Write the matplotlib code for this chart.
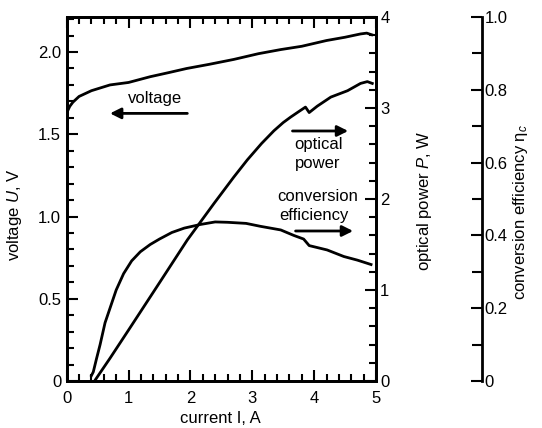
import numpy as np
import matplotlib
matplotlib.use("Agg")
import matplotlib.pyplot as plt
from matplotlib.ticker import MultipleLocator

plt.rcParams['font.family'] = ['Liberation Sans', 'DejaVu Sans']
plt.rcParams['mathtext.fontset'] = 'custom'
plt.rcParams['mathtext.rm'] = 'Liberation Sans'
plt.rcParams['mathtext.it'] = 'Liberation Sans:italic'

# data
voltage_I = [0, 0.05, 0.1, 0.2, 0.4, 0.7, 1.0, 1.35, 1.65, 1.94, 2.3, 2.7, 3.1,
             3.46, 3.8, 4.2, 4.5, 4.75, 4.85, 4.93]
voltage = [1.63, 1.67, 1.695, 1.73, 1.765, 1.80, 1.815, 1.85, 1.875, 1.90, 1.925,
           1.955, 1.99, 2.015, 2.035, 2.07, 2.09, 2.11, 2.115, 2.105]

power_I = [0.45, 0.7, 1.0, 1.5, 1.95, 2.38, 2.7, 2.92, 3.15, 3.35, 3.5, 3.62,
           3.75, 3.86, 3.92, 4.05, 4.27, 4.54, 4.75, 4.86, 4.94]
power = [0.0, 0.25, 0.56, 1.08, 1.55, 1.95, 2.24, 2.43, 2.61, 2.75, 2.84, 2.90,
         2.96, 3.01, 2.95, 3.02, 3.12, 3.19, 3.27, 3.29, 3.27]

eff_I = [0.40, 0.43, 0.48, 0.54, 0.62, 0.70, 0.80, 0.92, 1.05, 1.19, 1.35, 1.5,
         1.7, 1.9, 2.16, 2.4, 2.6, 2.9, 3.13, 3.46, 3.67, 3.83, 3.92, 4.21, 4.48,
         4.7, 4.92]
efficiency = [0.015, 0.025, 0.06, 0.10, 0.16, 0.20, 0.25, 0.295, 0.33, 0.355, 0.375,
              0.39, 0.408, 0.42, 0.43, 0.437, 0.436, 0.433, 0.425, 0.415, 0.40,
              0.39, 0.372, 0.36, 0.342, 0.332, 0.32]

W, H = 542, 428
fig = plt.figure(figsize=(W / 100, H / 100), dpi=100)
ax = fig.add_axes([66.7 / W, 1 - 381 / H, 309.3 / W, 364 / H])
ax2 = ax.twinx()
ax3 = ax.twinx()

lw = 2.0
ax.plot(voltage_I, voltage, color='k', lw=lw)
ax2.plot(power_I, power, color='k', lw=lw)
ax3.plot(eff_I, efficiency, color='k', lw=lw)

ax.set_xlim(0, 5)
ax.set_ylim(0, 2.213)
ax2.set_ylim(0, 4)
ax3.set_ylim(0, 1)

for a in (ax, ax2, ax3):
    for s in a.spines.values():
        s.set_linewidth(2.0)

ax.xaxis.set_major_locator(MultipleLocator(1))
ax.xaxis.set_minor_locator(MultipleLocator(0.2))
ax.yaxis.set_major_locator(MultipleLocator(0.5))
ax.yaxis.set_minor_locator(MultipleLocator(0.1))
ax.set_yticks([0, 0.5, 1.0, 1.5, 2.0], ['0', '0.5', '1.0', '1.5', '2.0'])
ax.tick_params(which='both', direction='in', top=True, right=False,
               width=1.5, labelsize=12, pad=4)
ax.tick_params(axis='x', which='both', pad=7)
ax.tick_params(which='major', length=8)
ax.tick_params(which='minor', length=5)

ax2.yaxis.set_major_locator(MultipleLocator(1))
ax2.yaxis.set_minor_locator(MultipleLocator(0.2))
ax2.tick_params(which='both', direction='in', width=1.5, labelsize=12, pad=3)
ax2.tick_params(which='major', length=8)
ax2.tick_params(which='minor', length=5)

ax3.spines['right'].set_position(('axes', 1.342))
for side in ('left', 'top', 'bottom'):
    ax3.spines[side].set_visible(False)
ax3.set_yticks([0, 0.2, 0.4, 0.6, 0.8, 1.0], ['0', '0.2', '0.4', '0.6', '0.8', '1.0'])
ax3.yaxis.set_minor_locator(MultipleLocator(0.1))
ax3.tick_params(which='both', direction='in', width=1.5, labelsize=12, pad=2)
ax3.tick_params(which='major', length=8)
ax3.tick_params(which='minor', length=7)

# axis labels
fig.text(15 / W, 1 - 215 / H, 'voltage $\\it{U}$, V', rotation=90,
         ha='center', va='center', fontsize=12)
fig.text(424 / W, 1 - 201 / H, 'optical power $\\it{P}$, W', rotation=90,
         ha='center', va='center', fontsize=12)
fig.text(520 / W, 1 - 212 / H, 'conversion efficiency η$_{\\it{c}}$', rotation=90,
         ha='center', va='center', fontsize=12)
fig.text(220 / W, 1 - 423 / H, 'current I, A', ha='center', va='baseline', fontsize=12)

# annotations with arrows
arrow = dict(arrowstyle='-|>', lw=2, color='k', mutation_scale=16,
             shrinkA=0, shrinkB=0)
ax.text(1.43, 1.72, 'voltage', ha='center', va='center', fontsize=12)
ax.annotate('', xy=(0.70, 1.627), xytext=(1.95, 1.627), arrowprops=arrow)

ax.text(4.07, 1.435, 'optical', ha='center', va='center', fontsize=12)
ax.text(4.06, 1.325, 'power', ha='center', va='center', fontsize=12)
ax.annotate('', xy=(4.55, 1.52), xytext=(3.65, 1.52), arrowprops=arrow)

ax.text(4.05, 1.12, 'conversion', ha='center', va='center', fontsize=12)
ax.text(3.99, 1.005, 'efficiency', ha='center', va='center', fontsize=12)
ax.annotate('', xy=(4.63, 0.912), xytext=(3.70, 0.912), arrowprops=arrow)

fig.savefig('out.png', dpi=100)
